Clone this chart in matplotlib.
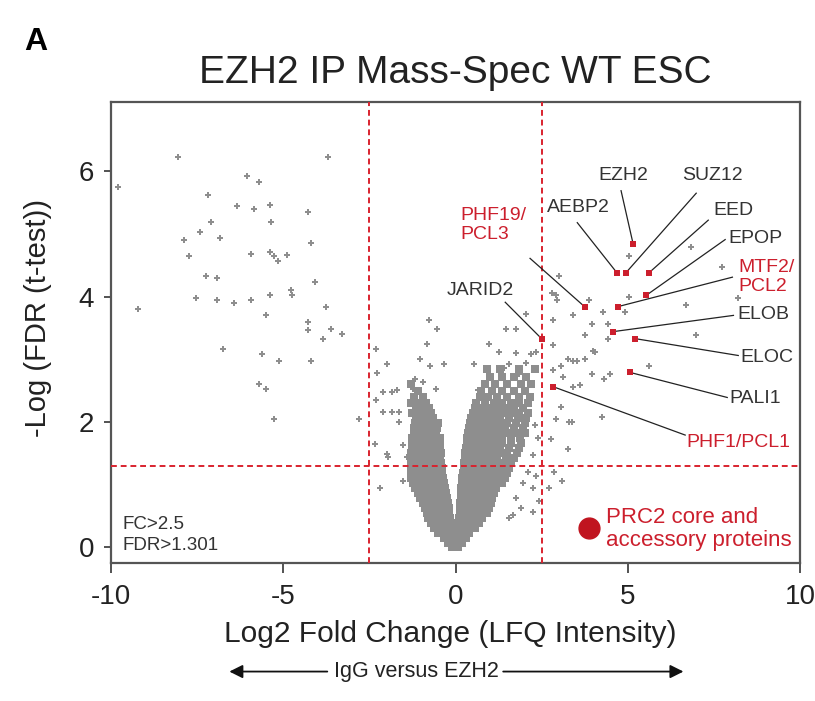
"""Volcano plot: EZH2 IP mass-spec in WT ESC (IgG vs EZH2)."""
import matplotlib.pyplot as plt
from matplotlib.patches import FancyArrowPatch

plt.rcParams['font.family'] = ['Liberation Sans', 'DejaVu Sans']
plt.rcParams['axes.unicode_minus'] = False

# ---- data ------------------------------------------------------------------
# enriched in IgG (left, significant)
left_x = [-8.04, -3.71, -9.80, -6.05, -5.70, -7.19, -6.34, -5.85, -5.38, -4.27,
          -7.10, -5.35, -7.40, -7.87, -6.84, -4.18, -7.72, -5.94, -5.38, -5.26,
          -5.15, -4.88, -7.25, -6.93, -4.09, -4.77, -4.74, -7.54, -6.93, -6.43,
          -5.94, -5.38, -9.21, -3.77, -5.50, -4.27, -4.27, -3.60, -3.86, -3.30,
          -6.75, -5.61, -5.12, -4.18, -5.70, -5.50, -5.26, -2.81]
left_y = [6.22, 6.22, 5.75, 5.92, 5.83, 5.62, 5.44, 5.40, 5.46, 5.35,
          5.19, 5.19, 5.03, 4.90, 4.94, 4.86, 4.65, 4.68, 4.71, 4.65,
          4.57, 4.67, 4.33, 4.29, 4.24, 4.11, 4.02, 3.97, 3.95, 3.89,
          3.94, 4.02, 3.81, 3.84, 3.71, 3.60, 3.46, 3.48, 3.33, 3.40,
          3.16, 3.08, 2.97, 2.98, 2.60, 2.52, 2.05, 2.05]

# sparse proteins around the central cloud
fringe_x = [-0.76, -0.53, -0.82, -2.31, -1.02, -1.99, -0.73, -0.35, -2.28, -1.17,
            -0.94, -2.11, -1.84, -1.70, -1.23, -0.58, -2.31, -2.11, -1.84, -1.64,
            -1.64, -2.34, -1.99, -1.96, -1.52, -1.40, -2.19, -1.52, -1.23,
            2.05, 1.46, 1.75, 0.97, 1.26, 1.75, 2.19, 2.34, 0.53, 1.55, 2.05,
            1.40, 1.84, 0.64, 2.25, 2.10, 2.34, 1.96, 2.25, 1.75, 2.25, 1.90,
            1.55, 2.43, 1.67, 2.40, 2.85, 3.10, 2.70, 2.30]
fringe_y = [3.62, 3.49, 3.24, 3.17, 3.00, 2.92, 2.89, 2.92, 2.78, 2.68,
            2.63, 2.48, 2.48, 2.51, 2.52, 2.52, 2.35, 2.16, 2.16, 2.16,
            2.00, 1.65, 1.49, 1.44, 1.63, 1.44, 0.94, 1.05, 1.16,
            3.73, 3.48, 3.48, 3.24, 3.11, 3.10, 3.08, 3.11, 2.92, 2.92, 2.94,
            2.86, 2.76, 2.51, 1.47, 1.20, 1.13, 1.02, 0.94, 0.78, 0.57, 0.62,
            0.46, 0.73, 0.52, 1.75, 1.20, 1.05, 0.95, 1.95]

# enriched in EZH2 (right, non-PRC2)
right_x = [3.01, 2.92, 2.80, 2.95, 3.86, 3.42, 4.27, 2.84, 4.42, 3.74,
           4.42, 2.84, 4.04, 3.25, 3.42, 3.51, 3.74, 3.07, 2.84, 3.95,
           4.30, 4.47, 3.60, 3.42, 3.13, 5.61, 3.07, 4.24, 2.92, 3.30,
           3.39, 2.78, 3.27, 5.03, 6.84, 7.72, 8.19, 6.67, 6.96, 5.03,
           4.27, 4.91, 3.95, 4.42, 4.00]
right_y = [4.33, 4.02, 4.05, 3.94, 3.95, 3.70, 3.76, 3.62, 3.57, 3.38,
           3.32, 3.22, 3.11, 3.00, 2.98, 2.97, 3.00, 2.90, 2.83, 2.76,
           2.68, 2.76, 2.59, 2.56, 2.71, 2.90, 2.24, 2.08, 2.05, 2.00,
           2.00, 1.73, 1.57, 4.65, 4.79, 4.48, 3.98, 3.86, 3.38, 4.00,
           3.75, 3.75, 3.56, 3.32, 3.13]

# dense V-shaped cloud of background proteins, one list of x per height
core_levels = [0.00, 0.07, 0.14, 0.22, 0.30, 0.38, 0.46, 0.54, 0.62, 0.70,
               0.78, 0.86, 0.94, 1.02, 1.10, 1.18, 1.26, 1.34, 1.42, 1.50,
               1.58, 1.66, 1.74, 1.82, 1.90, 1.98, 2.06, 2.14, 2.22, 2.30,
               2.40, 2.50, 2.60, 2.72, 2.85]
core_rows = [
    [-0.10, 0.00, 0.08],
    [-0.22, -0.12, -0.02, 0.10, 0.20],
    [-0.35, -0.25, -0.13, -0.03, 0.08, 0.18, 0.30],
    [-0.50, -0.38, -0.27, -0.15, -0.05, 0.06, 0.17, 0.28, 0.40],
    [-0.62, -0.50, -0.38, -0.26, -0.12, 0.08, 0.20, 0.32, 0.45, 0.56],
    [-0.72, -0.60, -0.47, -0.35, -0.22, -0.10, 0.10, 0.22, 0.35, 0.48, 0.60, 0.68],
    [-0.80, -0.68, -0.55, -0.42, -0.30, -0.15, 0.10, 0.23, 0.36, 0.50, 0.63, 0.77],
    [-0.84, -0.72, -0.60, -0.47, -0.33, -0.18, 0.12, 0.25, 0.38, 0.52, 0.66, 0.80, 0.90],
    [-0.90, -0.77, -0.63, -0.50, -0.36, -0.20, 0.13, 0.27, 0.40, 0.55, 0.70, 0.85, 0.97],
    [-0.95, -0.82, -0.68, -0.54, -0.40, -0.22, 0.14, 0.28, 0.42, 0.57, 0.72, 0.88, 1.02],
    [-1.02, -0.88, -0.73, -0.58, -0.43, -0.25, 0.15, 0.30, 0.45, 0.60, 0.75, 0.90, 1.06],
    [-1.10, -0.95, -0.80, -0.64, -0.48, -0.28, 0.16, 0.31, 0.47, 0.62, 0.78, 0.94, 1.12],
    [-1.18, -1.02, -0.86, -0.70, -0.52, -0.30, 0.17, 0.33, 0.49, 0.65, 0.82, 0.98, 1.18],
    [-1.24, -1.08, -0.90, -0.74, -0.56, -0.33, 0.18, 0.34, 0.50, 0.67, 0.85, 1.02, 1.22, 1.35],
    [-1.28, -1.12, -0.95, -0.77, -0.58, -0.36, 0.20, 0.36, 0.53, 0.70, 0.88, 1.06, 1.26, 1.42],
    [-1.30, -1.14, -0.97, -0.80, -0.60, -0.38, 0.22, 0.38, 0.55, 0.72, 0.90, 1.10, 1.30, 1.50],
    [-1.30, -1.13, -0.96, -0.79, -0.60, -0.40, 0.23, 0.40, 0.57, 0.75, 0.93, 1.13, 1.35, 1.56],
    [-1.28, -1.12, -0.95, -0.78, -0.60, -0.42, 0.25, 0.42, 0.60, 0.78, 0.97, 1.17, 1.40, 1.62],
    [-1.30, -1.14, -0.97, -0.80, -0.62, -0.44, 0.27, 0.44, 0.62, 0.80, 1.00, 1.20, 1.45, 1.70],
    [-1.28, -1.12, -0.95, -0.78, -0.60, -0.43, 0.28, 0.46, 0.64, 0.83, 1.03, 1.25, 1.50, 1.78],
    [-1.26, -1.10, -0.93, -0.77, -0.60, -0.45, 0.30, 0.48, 0.66, 0.85, 1.06, 1.30, 1.55, 1.85],
    [-1.27, -1.10, -0.92, -0.75, -0.58, -0.44, 0.32, 0.50, 0.68, 0.88, 1.10, 1.34, 1.60, 1.90],
    [-1.25, -1.08, -0.90, -0.73, -0.57, -0.45, 0.33, 0.52, 0.70, 0.90, 1.12, 1.36, 1.62, 1.88],
    [-1.22, -1.05, -0.88, -0.72, -0.56, 0.36, 0.55, 0.74, 0.94, 1.15, 1.38, 1.62, 1.82, 2.00],
    [-1.20, -1.03, -0.86, -0.70, -0.55, 0.38, 0.58, 0.78, 0.98, 1.20, 1.42, 1.70, 1.95],
    [-1.18, -1.00, -0.84, -0.68, -0.52, 0.42, 0.62, 0.82, 1.02, 1.25, 1.48, 1.75, 2.00],
    [-1.15, -0.98, -0.82, -0.66, 0.45, 0.66, 0.87, 1.08, 1.30, 1.55, 1.80, 2.05],
    [-1.25, -1.05, -0.88, -0.70, 0.50, 0.70, 0.92, 1.14, 1.38, 1.60, 1.85, 2.10],
    [-1.15, -0.95, -0.78, 0.55, 0.78, 1.00, 1.22, 1.45, 1.70, 1.95],
    [-1.30, -1.05, -0.85, 0.60, 0.85, 1.10, 1.35, 1.60, 1.85, 2.10],
    [-1.20, -0.95, 0.70, 0.95, 1.20, 1.50, 1.85, 2.15],
    [-1.10, 0.75, 1.05, 1.35, 1.70, 2.00],
    [-1.30, 0.85, 1.15, 1.50, 1.90, 2.20],
    [1.00, 1.35, 1.70, 2.05],
    [0.90, 1.30, 1.85, 2.30],
]

# PRC2 core and accessory proteins
prc2_names = ['EZH2', 'SUZ12', 'AEBP2', 'EED', 'EPOP', 'MTF2/\nPCL2', 'ELOB',
              'ELOC', 'PALI1', 'PHF1/PCL1', 'PHF19/\nPCL3', 'JARID2']
prc2_x = [5.15, 4.94, 4.68, 5.61, 5.53, 4.71, 4.56, 5.20, 5.06, 2.84, 3.74, 2.51]
prc2_y = [4.84, 4.38, 4.38, 4.38, 4.02, 3.84, 3.44, 3.33, 2.79, 2.56, 3.84, 3.32]
prc2_red_label = [False, False, False, False, False, True, False,
                  False, False, True, True, False]

fc_cut = 2.5
fdr_cut = 1.301

# ---- layout of the callouts (text anchor, ha, line start) -----------------
label_layout = [
    ((4.86, 5.93), 'center', (4.80, 5.69)),
    ((7.45, 5.93), 'center', (6.98, 5.65)),
    ((3.56, 5.42), 'center', (3.53, 5.18)),
    ((8.06, 5.37), 'center', (7.33, 5.22)),
    ((7.91, 4.93), 'left', (7.82, 4.91)),
    ((8.20, 4.31), 'left', (8.03, 4.31)),
    ((8.17, 3.72), 'left', (8.06, 3.70)),
    ((8.26, 3.03), 'left', (8.20, 3.06)),
    ((7.94, 2.38), 'left', (7.88, 2.39)),
    ((6.69, 1.67), 'left', (6.66, 1.79)),
    ((0.13, 5.14), 'left', (2.16, 4.61)),
    ((0.71, 4.10), 'center', (1.44, 3.91)),
]

GREY = '#8e8e8e'
RED = '#cc1f2d'
TXT = '#333333'

fig = plt.figure(figsize=(8.15, 7.01), dpi=100)
ax = fig.add_axes([0.136, 0.197, 0.846, 0.657])

core_x = [x for row in core_rows for x in row]
core_y = [lvl for lvl, row in zip(core_levels, core_rows) for _ in row]

ax.scatter(core_x, core_y, marker='s', s=34, color=GREY, linewidths=0, zorder=2)
mk = dict(marker='P', s=24, color=GREY, linewidths=0, zorder=2)
ax.scatter(fringe_x, fringe_y, **mk)
ax.scatter(left_x, left_y, **mk)
ax.scatter(right_x, right_y, **mk)

# thresholds
dash = dict(color='#d9232e', lw=1.4, ls=(0, (3, 2)), zorder=3)
ax.axvline(-fc_cut, **dash)
ax.axvline(fc_cut, **dash)
ax.axhline(fdr_cut, **dash)

# PRC2 members with callouts
ax.scatter(prc2_x, prc2_y, marker='s', s=18, color=RED, zorder=5, linewidths=0)
for name, px, py, red, (tpos, ha, lstart) in zip(prc2_names, prc2_x, prc2_y,
                                                 prc2_red_label, label_layout):
    ax.plot([lstart[0], px], [lstart[1], py], color='#222222', lw=0.9, zorder=4)
    ax.text(tpos[0], tpos[1], name, ha=ha, va='center', fontsize=14,
            color=RED if red else TXT, linespacing=1.2)

# legend
ax.plot([3.88], [0.30], 'o', ms=15, color='#c0141f', zorder=5)
ax.text(4.37, 0.29, 'PRC2 core and\naccessory proteins', color=RED,
        fontsize=16, va='center', ha='left', linespacing=1.1)
ax.text(-9.65, 0.20, 'FC>2.5\nFDR>1.301', color=TXT, fontsize=13.5,
        va='center', ha='left', linespacing=1.3)

ax.set_xlim(-10, 10)
ax.set_ylim(-0.25, 7.1)
ax.set_xticks([-10, -5, 0, 5, 10])
ax.set_yticks([0, 2, 4, 6])
ax.tick_params(labelsize=20, width=1.3, colors='#444444',
               labelcolor='#222222', direction='out')
ax.tick_params(axis='x', length=7, pad=8)
ax.tick_params(axis='y', length=5, pad=7)
for sp in ax.spines.values():
    sp.set_color('#555555')
    sp.set_linewidth(1.6)

fig.text(0.047, 0.546, '-Log (FDR (t-test))', rotation=90, ha='center',
         va='center', fontsize=21, color='#222222')
fig.text(0.553, 0.096, 'Log2 Fold Change (LFQ Intensity)', ha='center',
         va='center', fontsize=21.5, color='#222222')
fig.text(0.558, 0.896, 'EZH2 IP Mass-Spec WT ESC', ha='center', va='center',
         fontsize=28, color='#222222')
fig.text(0.03, 0.94, 'A', fontsize=23, fontweight='bold', ha='left',
         va='center')

# "IgG versus EZH2" with arrows
ya = 0.042
fig.text(0.511, ya, 'IgG versus EZH2', ha='center', va='center',
         fontsize=15.5, color='#222222')
arrow = dict(arrowstyle='-|>', color='#111111', lw=1.3, mutation_scale=20,
             transform=fig.transFigure)
fig.add_artist(FancyArrowPatch((0.405, ya), (0.278, ya), **arrow))
fig.add_artist(FancyArrowPatch((0.614, ya), (0.842, ya), **arrow))

fig.savefig('out.png', dpi=100)
